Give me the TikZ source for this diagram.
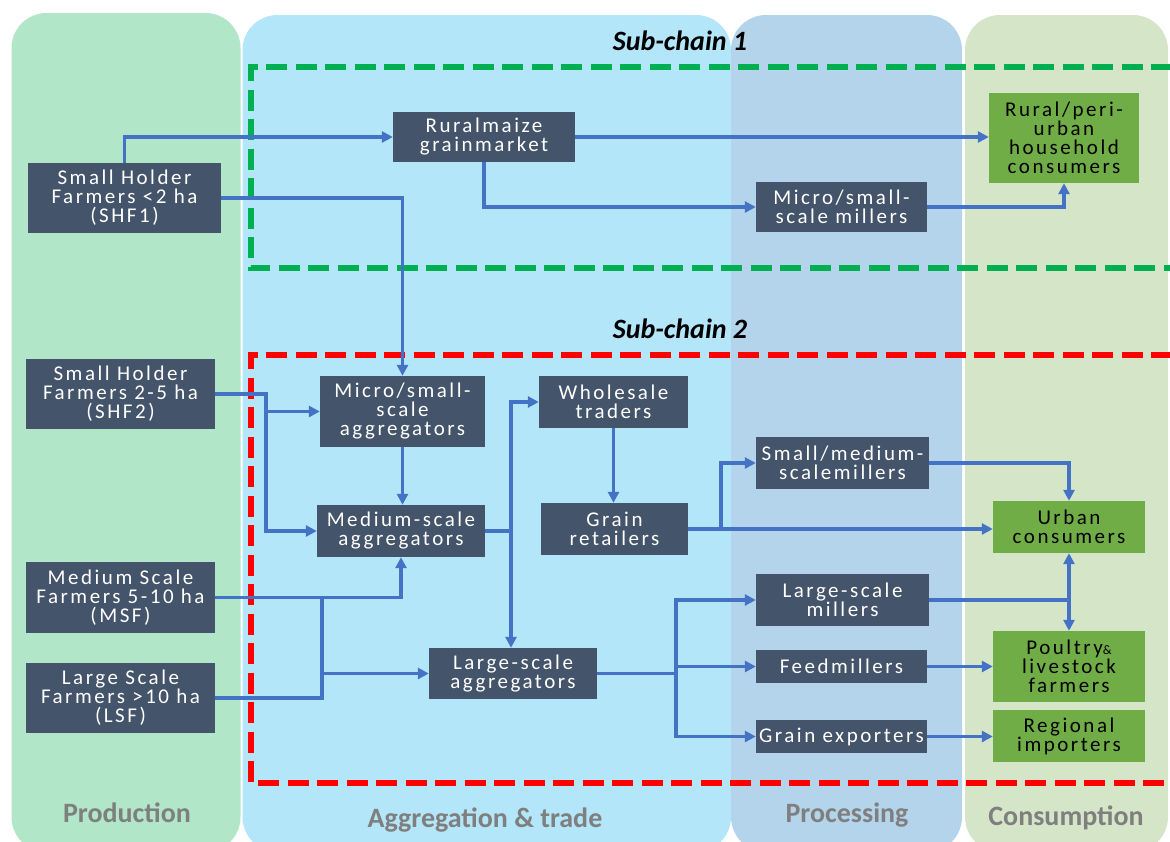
\documentclass[tikz,border=0pt]{standalone}
\usepackage{fontspec}
\setmainfont{Carlito}
\newfontfamily\boxfont[LetterSpace=12]{Carlito}
\usetikzlibrary{arrows.meta}
\definecolor{prodbg}{HTML}{B1E6C8}
\definecolor{aggbg}{HTML}{B3E6F8}
\definecolor{procbg}{HTML}{B4D4EC}
\definecolor{consbg}{HTML}{D5E6C8}
\definecolor{boxc}{HTML}{44546A}
\definecolor{greenc}{HTML}{70AD47}
\definecolor{linec}{HTML}{4472C4}
\definecolor{headgray}{HTML}{7F7F7F}
\definecolor{dashgreen}{HTML}{00B050}
\definecolor{dashred}{HTML}{FF0000}
\begin{document}
\begin{tikzpicture}[x=1pt,y=-1pt,
  box/.style={fill=boxc, text=white, inner sep=0pt, align=center,
    font=\boxfont\fontsize{21}{19}\selectfont},
  gbox/.style={box, fill=greenc, text=black},
  conn/.style={draw=linec, line width=3.2pt, -{Triangle[length=11pt,width=11pt]}},
  plain/.style={draw=linec, line width=3.2pt},
  colbg/.style={rounded corners=35pt},
  heading/.style={anchor=base, text=headgray, font=\bfseries\fontsize{28}{28}\selectfont},
  chainlabel/.style={anchor=base, font=\bfseries\itshape\fontsize{28}{28}\selectfont},
  frame/.style={line width=6pt, dash pattern=on 21pt off 8.5pt}
]
\useasboundingbox (0,0) rectangle (1170,841);
\begin{scope}
\clip (0,0) rectangle (1170,841);
% column backgrounds
\fill[prodbg, colbg] (11.5,13) rectangle (240.5,852);
\fill[aggbg, colbg] (242.5,15) rectangle (731,852);
\fill[procbg, colbg] (731,15) rectangle (962,852);
\fill[consbg, colbg] (965,15) rectangle (1168,852);
% sub-chain frames
\draw[frame, draw=dashgreen] (1172,67) -- (250.5,67) -- (250.5,268) -- (1172,268);
\draw[frame, draw=dashred] (1172,355) -- (250.5,355) -- (250.5,783) -- (1172,783);
\end{scope}

% labels
\node[chainlabel] (sc1) at (680,50) {Sub-chain 1};
\node[chainlabel] (sc2) at (680,338) {Sub-chain 2};
\node[heading] (hprod) at (127,822) {Production};
\node[heading] (hagg) at (485,827) {Aggregation \& trade};
\node[heading] (hproc) at (847,822) {Processing};
\node[heading] (hcons) at (1066,825) {Consumption};

% sub-chain 1 nodes
\node[box, minimum width=193pt, minimum height=70pt] (shf1) at (124.5,198) {Small Holder\\Farmers <2 ha\\(SHF1)};
\node[box, minimum width=182pt, minimum height=50pt] (rmkt) at (484,137) {Ruralmaize\\grainmarket};
\node[box, minimum width=171pt, minimum height=50pt] (mmill1) at (841.5,207) {Micro/small-\\scale millers};
\node[gbox, minimum width=150pt, minimum height=90pt] (rcons) at (1064,138) {Rural/peri-\\urban\\household\\consumers};

% sub-chain 2 nodes
\node[box, minimum width=189pt, minimum height=70pt] (shf2) at (120.5,394) {Small Holder\\Farmers 2-5 ha\\(SHF2)};
\node[box, minimum width=189pt, minimum height=71pt] (msf) at (120.5,597.5) {Medium Scale\\Farmers 5-10 ha\\(MSF)};
\node[box, minimum width=189pt, minimum height=70pt] (lsf) at (120.5,698) {Large Scale\\Farmers >10 ha\\(LSF)};
\node[box, minimum width=165pt, minimum height=71pt] (magg) at (402.5,411.5) {Micro/small-\\scale\\aggregators};
\node[box, minimum width=168pt, minimum height=52pt] (medagg) at (401,531) {Medium-scale\\aggregators};
\node[box, minimum width=168pt, minimum height=51pt] (lagg) at (513,673.5) {Large-scale\\aggregators};
\node[box, minimum width=149pt, minimum height=52pt] (whole) at (613.5,402) {Wholesale\\traders};
\node[box, minimum width=147pt, minimum height=52pt] (retail) at (614.5,529) {Grain\\retailers};
\node[box, minimum width=173pt, minimum height=52pt] (smmill) at (842.5,463) {Small/medium-\\scalemillers};
\node[box, minimum width=173pt, minimum height=52pt] (lmill) at (842.5,600) {Large-scale\\millers};
\node[box, minimum width=171pt, minimum height=33pt] (feed) at (841.5,666.5) {Feedmillers};
\node[box, minimum width=171pt, minimum height=33pt] (gexp) at (841.5,736.5) {Grain exporters};
\node[gbox, minimum width=152pt, minimum height=52pt] (ucons) at (1069,527) {Urban\\consumers};
\node[gbox, minimum width=152pt, minimum height=71pt] (poultry) at (1069,666.5) {Poultry{\fontsize{13}{13}\selectfont\&}\\livestock\\farmers};
\node[gbox, minimum width=152pt, minimum height=52pt] (regimp) at (1069,736) {Regional\\importers};

% connectors sub-chain 1
\draw[conn] (shf1.north) |- (rmkt.west);
\draw[conn] (shf1.east) -| (magg.north);
\draw[conn] (rmkt.east) -- (rmkt.east -| rcons.west);
\draw[conn] (rmkt.south) |- (mmill1.west);
\draw[conn] (mmill1.east) -| (rcons.south);

% connectors sub-chain 2
\coordinate (j1) at (266,394);
\draw[conn] (shf2.east) -| (j1) |- (medagg.west);
\draw[conn] (j1 |- magg.west) -- (magg.west);
\draw[conn] (magg.south) -- (magg.south |- medagg.north);
\coordinate (j2) at (511,531);
\draw[conn] (medagg.east) -| (j2) |- (whole.west);
\draw[conn] (j2) -- (j2 |- lagg.north);
\draw[conn] (whole.south) -- (whole.south |- retail.north);
\draw[conn] (retail.east) -- (retail.east -| ucons.west);
\coordinate (j3) at (721,529);
\draw[conn] (j3) |- (smmill.west);
\draw[conn] (smmill.east) -| (ucons.north);
\coordinate (j4) at (322,597.5);
\draw[conn] (msf.east) -| (medagg.south);
\draw[plain] (lsf.east) -| (j4);
\draw[conn] (j4 |- lagg.west) -- (lagg.west);
\coordinate (j5) at (676,673.5);
\draw[plain] (lagg.east) -- (j5);
\draw[conn] (j5) |- (lmill.west);
\draw[conn] (j5 |- feed.west) -- (feed.west);
\draw[conn] (j5) |- (gexp.west);
\coordinate (j6) at (lmill.east -| ucons.south);
\draw[plain] (lmill.east) -- (j6);
\draw[conn] (j6) -- (ucons.south);
\draw[conn] (j6) -- (poultry.north);
\draw[conn] (feed.east) -- (poultry.west);
\draw[conn] (gexp.east) -- (gexp.east -| regimp.west);
\end{tikzpicture}
\end{document}
